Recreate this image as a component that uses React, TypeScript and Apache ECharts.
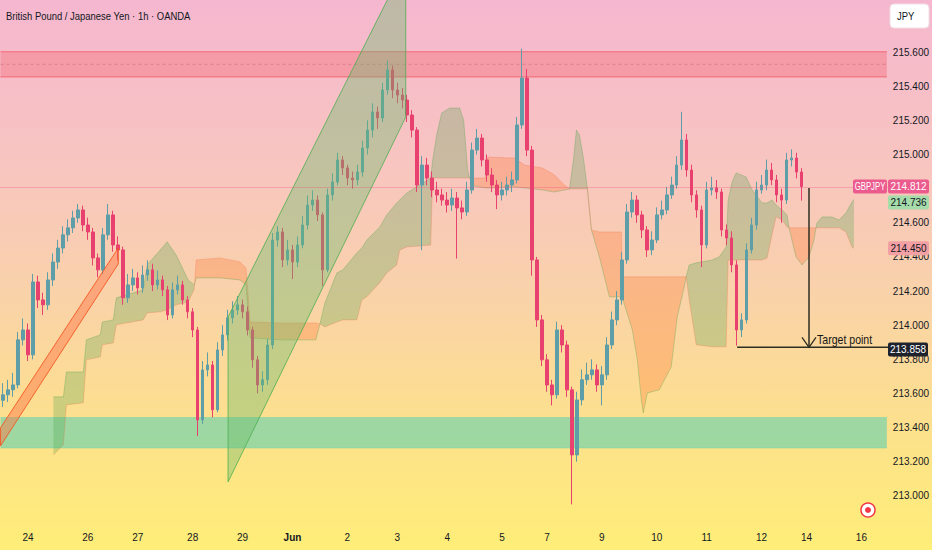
import * as echarts from "echarts";
import { useEffect, useRef } from "react";

const FONT = '"Liberation Sans", Arial, sans-serif';
// the reference uses a condensed face; texts drawn as graphics are squeezed a little
const NARROW = 0.86;

// one category slot per candle, plus empty slots to the right
const SLOT_COUNT = 178;

const firstOpen = 213.56;
const closes = [
  213.592, 213.621, 213.65, 213.914, 213.972, 213.826, 214.253, 214.148, 214.119, 214.265,
  214.37, 214.452, 214.529, 214.57, 214.628, 214.675, 214.587, 214.546, 214.394, 214.324,
  214.529, 214.646, 214.47, 214.441, 214.16, 214.236, 214.277, 214.218, 214.294, 214.324,
  214.236, 214.265, 214.207, 214.06, 214.207, 214.236, 214.148, 214.078, 213.972, 213.445,
  213.738, 213.767, 213.504, 213.855, 213.943, 214.043, 214.089, 214.119, 214.078, 213.972,
  213.797, 213.65, 213.68, 213.884, 214.499, 214.546, 214.382, 214.441, 214.37, 214.47,
  214.587, 214.704, 214.733, 214.646, 214.324, 214.763, 214.839, 214.968, 214.921, 214.862,
  214.851, 214.897, 215.038, 215.143, 215.249, 215.214, 215.378, 215.495, 215.378, 215.348,
  215.319, 215.231, 215.143, 214.821, 214.938, 214.862, 214.792, 214.763, 214.733, 214.704,
  214.745, 214.687, 214.663, 214.792, 215.026, 215.096, 214.968, 214.88, 214.821, 214.763,
  214.792, 214.821, 214.851, 215.173, 215.448, 215.026, 214.382, 214.031, 213.797, 213.65,
  213.592, 213.972, 213.884, 213.621, 213.24, 213.562, 213.68, 213.709, 213.738, 213.65,
  213.709, 213.884, 214.031, 214.148, 214.382, 214.663, 214.733, 214.646, 214.558, 214.441,
  214.499, 214.646, 214.675, 214.763, 214.821, 214.938, 215.085, 214.909, 214.763, 214.675,
  214.47, 214.792, 214.804, 214.78, 214.558, 214.511, 214.353, 213.972, 214.031, 214.441,
  214.587, 214.792, 214.821, 214.909, 214.851, 214.763, 214.733, 214.968, 214.979, 214.897,
  214.812,
];
const highs = [
  213.66, 213.68, 213.72, 213.96, 214.04, 214.01, 214.3, 214.29, 214.19, 214.31,
  214.42, 214.5, 214.58, 214.62, 214.67, 214.71, 214.7, 214.63, 214.57, 214.42,
  214.57, 214.71, 214.67, 214.52, 214.46, 214.3, 214.33, 214.31, 214.35, 214.38,
  214.36, 214.32, 214.29, 214.23, 214.25, 214.29, 214.26, 214.17, 214.1, 213.99,
  213.79, 213.84, 213.79, 213.9, 214.0, 214.09, 214.14, 214.17, 214.15, 214.11,
  213.99, 213.82, 213.73, 213.92, 214.54, 214.58, 214.57, 214.5, 214.47, 214.52,
  214.64, 214.76, 214.79, 214.76, 214.66, 214.8, 214.89, 215.01, 214.99, 214.94,
  214.9, 214.94, 215.08, 215.2, 215.3, 215.28, 215.42, 215.55, 215.52, 215.42,
  215.39, 215.35, 215.26, 215.16, 214.99, 214.98, 214.9, 214.84, 214.8, 214.78,
  214.8, 214.78, 214.73, 214.84, 215.07, 215.15, 215.12, 215.0, 214.92, 214.85,
  214.84, 214.87, 214.9, 215.22, 215.62, 215.5, 215.05, 214.4, 214.06, 213.83,
  213.68, 214.02, 214.0, 213.91, 213.64, 213.61, 213.74, 213.78, 213.8, 213.77,
  213.76, 213.93, 214.08, 214.2, 214.43, 214.71, 214.78, 214.76, 214.67, 214.58,
  214.55, 214.69, 214.73, 214.81, 214.87, 214.99, 215.25, 215.12, 214.94, 214.79,
  214.7, 214.84, 214.87, 214.85, 214.8, 214.59, 214.55, 214.38, 214.07, 214.48,
  214.63, 214.84, 214.88, 214.97, 214.95, 214.88, 214.8, 215.01, 215.03, 215.01,
  214.92,
];
const lows = [
  213.52, 213.55, 213.58, 213.63, 213.88, 213.79, 213.8, 214.1, 214.06, 214.09,
  214.23, 214.33, 214.42, 214.49, 214.54, 214.6, 214.55, 214.5, 214.35, 214.28,
  214.3, 214.5, 214.43, 214.38, 214.12, 214.13, 214.2, 214.18, 214.19, 214.26,
  214.2, 214.21, 214.17, 214.03, 214.04, 214.18, 214.12, 214.04, 213.93, 213.35,
  213.42, 213.7, 213.46, 213.49, 213.82, 213.91, 214.01, 214.06, 214.04, 213.94,
  213.75, 213.6, 213.61, 213.65, 213.86, 214.46, 214.34, 214.35, 214.27, 214.34,
  214.45, 214.56, 214.67, 214.61, 214.23, 214.31, 214.73, 214.82, 214.88, 214.82,
  214.8, 214.82, 214.87, 215.0, 215.1, 215.15, 215.19, 215.35, 215.33, 215.3,
  215.27, 215.19, 215.1, 214.78, 214.44, 214.82, 214.75, 214.72, 214.7, 214.66,
  214.67, 214.39, 214.62, 214.64, 214.77, 215.0, 214.93, 214.84, 214.78, 214.68,
  214.73, 214.76, 214.78, 214.83, 215.15, 214.99, 214.29, 213.99, 213.76, 213.61,
  213.53, 213.57, 213.84, 213.58, 212.95, 213.2, 213.53, 213.65, 213.68, 213.61,
  213.53, 213.68, 213.86, 214.0, 214.12, 214.36, 214.63, 214.6, 214.51, 214.4,
  214.41, 214.48, 214.62, 214.65, 214.74, 214.8, 214.91, 214.87, 214.72, 214.63,
  214.34, 214.45, 214.76, 214.74, 214.52, 214.47, 214.31, 213.88, 213.93, 214.01,
  214.42, 214.56, 214.77, 214.79, 214.82, 214.72, 214.6, 214.71, 214.93, 214.86,
  214.73,
];

const dayLabels = ["24", "26", "27", "28", "29", "Jun", "2", "3", "4", "5", "7", "9", "10", "11", "12", "14", "16"];
const dayLabelSlots = [5, 17, 27, 38, 48, 58, 69, 79, 89, 100, 109, 120, 131, 141, 152, 161, 172];

// ichimoku cloud (x in candle-slot units)
const cloudX = [
  10.1, 12.1, 12.7, 16.1, 16.7, 19.5, 19.9, 22.1, 22.7, 28.1,
  28.9, 31.5, 32.9, 34.7, 37.1, 38.3, 38.4, 38.7, 43.5, 47.5,
  48.7, 49.5, 55.5, 62.7, 63.5, 64.5, 66.9, 68.1, 70.9, 71.9,
  72.9, 75.5, 76.9, 78.9, 79.5, 80.9, 83.5, 85.7, 86.1, 86.9,
  87.9, 89.5, 91.5, 92.3, 93.1, 93.5, 94.5, 96.7, 97.1, 102.5,
  104.5, 108.1, 110.5, 112.5, 113.5, 114.3, 114.9, 115.5, 116.3, 117.1,
  117.9, 119.5, 121.5, 123.9, 124.1, 126.1, 127.1, 127.9, 128.3, 129.1,
  131.5, 133.9, 135.1, 136.5, 136.9, 137.5, 138.9, 142.1, 143.5, 144.9,
  145.3, 146.1, 146.9, 148.9, 150.1, 152.1, 153.1, 154.1, 154.9, 156.1,
  157.1, 157.5, 158.9, 160.1, 161.5, 162.5, 162.9, 163.1, 164.1, 166.1,
  167.5, 168.9, 170.1, 170.5,
];
const spanA = [
  213.58, 213.58, 213.726, 213.726, 213.914, 213.943, 214.019, 214.031, 214.16, 214.207,
  214.353, 214.441, 214.488, 214.411, 214.265, 214.236, 214.242, 214.277, 214.277, 214.265,
  214.236, 213.926, 213.914, 213.914, 214.007, 214.13, 214.306, 214.324, 214.423, 214.452,
  214.499, 214.575, 214.646, 214.716, 214.733, 214.774, 214.821, 214.862, 214.968, 215.114,
  215.243, 215.272, 215.272, 215.202, 214.909, 214.862, 214.815, 214.804, 214.804, 214.81,
  214.804, 214.792, 214.78, 214.792, 214.798, 214.968, 215.143, 215.114, 214.979, 214.798,
  214.558, 214.4, 214.166, 214.166, 214.16, 213.972, 213.797, 213.562, 213.486, 213.603,
  213.621, 213.756, 214.048, 214.224, 214.283, 214.353, 214.365, 214.382, 214.4, 214.458,
  214.733, 214.839, 214.892, 214.868, 214.792, 214.716, 214.716, 214.733, 214.704, 214.675,
  214.646, 214.57, 214.4, 214.353, 214.4, 214.499, 214.57, 214.599, 214.634, 214.634,
  214.616, 214.657, 214.72, 214.736,
];
const spanB = [
  213.24, 213.299, 213.533, 213.545, 213.797, 213.814, 213.885, 213.896, 214.002, 214.031,
  214.072, 214.078, 214.089, 214.119, 214.136, 214.207, 214.242, 214.382, 214.394, 214.37,
  214.335, 214.019, 214.013, 214.013, 214.007, 213.99, 214.019, 214.031, 214.031, 214.148,
  214.166, 214.248, 214.306, 214.353, 214.441, 214.458, 214.464, 214.47, 214.862, 214.862,
  214.862, 214.862, 214.862, 214.862, 214.862, 214.862, 214.862, 214.862, 214.985, 214.979,
  214.938, 214.921, 214.88, 214.821, 214.798, 214.798, 214.798, 214.798, 214.798, 214.798,
  214.558, 214.546, 214.546, 214.546, 214.283, 214.283, 214.283, 214.283, 214.283, 214.283,
  214.283, 214.283, 214.283, 214.283, 214.283, 214.148, 213.885, 213.873, 213.873, 213.873,
  214.382, 214.382, 214.382, 214.382, 214.382, 214.382, 214.394, 214.529, 214.634, 214.616,
  214.575, 214.57, 214.57, 214.57, 214.57, 214.57, 214.57, 214.57, 214.57, 214.57,
  214.57, 214.546, 214.458, 214.45,
];

const resistanceZone = [215.454, 215.602];
const supportZone = [213.28, 213.459];

const risingChannel = [
  [45.1, 214.048],
  [80.7, 216.12],
  [80.7, 215.219],
  [45.1, 213.082],
];
const trendBand = [
  [-0.5, 213.399],
  [23.1, 214.452],
  [23.1, 214.359],
  [-0.5, 213.293],
];

const lastPrice = 214.812;
const spanATag = 214.736;
const spanBTag = 214.45;
const targetTag = 213.858;
const targetLevel = 213.87;
const targetLineFrom = 147.1;
const arrowX = 161.5;
const arrowTop = 214.804;

export default function App() {
  const ref = useRef<HTMLDivElement | null>(null);

  useEffect(() => {
    document.body.style.margin = "0";
    if (!ref.current) return;
    const chart = echarts.init(ref.current, undefined, { renderer: "svg" });

    const candles = closes.map((c, i) => [
      i === 0 ? firstOpen : closes[i - 1],
      c,
      lows[i],
      highs[i],
    ]);

    const slotLabels: string[] = Array.from({ length: SLOT_COUNT }, () => "");
    dayLabelSlots.forEach((s, i) => (slotLabels[s] = dayLabels[i]));

    const zoneDefs = [
      {
        low: resistanceZone[0],
        high: resistanceZone[1],
        fill: "rgba(242, 54, 69, 0.25)",
        edge: "rgba(242, 54, 69, 0.55)",
        mid: true,
      },
      {
        low: supportZone[0],
        high: supportZone[1],
        fill: "rgba(64, 206, 184, 0.5)",
        edge: "rgba(64, 206, 184, 0.3)",
        mid: false,
      },
    ];

    const cloudRender = (_params: any, api: any) => {
      const children: any[] = [];
      const segSign = (k: number) =>
        spanA[k] + spanA[k + 1] - spanB[k] - spanB[k + 1] >= 0;
      let i = 0;
      while (i < cloudX.length - 1) {
        const up = segSign(i);
        let j = i;
        while (j < cloudX.length - 1 && segSign(j) === up) j++;
        const top: number[][] = [];
        const bot: number[][] = [];
        for (let k = i; k <= j; k++) {
          top.push(api.coord([cloudX[k], spanA[k]]));
          bot.push(api.coord([cloudX[k], spanB[k]]));
        }
        children.push({
          type: "polygon",
          shape: { points: top.concat(bot.reverse()) },
          style: {
            fill: up ? "rgba(67, 160, 71, 0.26)" : "rgba(255, 112, 40, 0.28)",
          },
        });
        i = j;
      }
      children.push({
        type: "polyline",
        shape: { points: cloudX.map((x, k) => api.coord([x, spanA[k]])) },
        style: { stroke: "rgba(67, 160, 71, 0.3)", lineWidth: 1, fill: "none" },
      });
      children.push({
        type: "polyline",
        shape: { points: cloudX.map((x, k) => api.coord([x, spanB[k]])) },
        style: { stroke: "rgba(240, 100, 60, 0.25)", lineWidth: 1, fill: "none" },
      });
      return { type: "group", children };
    };

    const zoneRender = (params: any, api: any) => {
      const cs = params.coordSys;
      const z = zoneDefs[params.dataIndex];
      const yTop = api.coord([0, z.high])[1];
      const yBot = api.coord([0, z.low])[1];
      const right = cs.x + cs.width - 2;
      const children: any[] = [
        {
          type: "rect",
          shape: { x: cs.x, y: yTop, width: right - cs.x, height: yBot - yTop },
          style: { fill: z.fill },
        },
        {
          type: "line",
          shape: { x1: cs.x, y1: yTop, x2: right, y2: yTop },
          style: { stroke: z.edge, lineWidth: 1 },
        },
        {
          type: "line",
          shape: { x1: cs.x, y1: yBot, x2: right, y2: yBot },
          style: { stroke: z.edge, lineWidth: 1 },
        },
      ];
      if (z.mid) {
        const yMid = (yTop + yBot) / 2;
        children.push({
          type: "line",
          shape: { x1: cs.x, y1: yMid, x2: right, y2: yMid },
          style: { stroke: "rgba(160, 70, 80, 0.3)", lineWidth: 1, lineDash: [3, 3] },
        });
      }
      return { type: "group", children };
    };

    const channelDefs = [
      { pts: risingChannel, fill: "rgba(102, 187, 106, 0.38)", stroke: "rgba(76, 175, 80, 0.8)" },
      { pts: trendBand, fill: "rgba(255, 112, 67, 0.45)", stroke: "rgba(244, 81, 30, 0.85)" },
    ];
    const channelRender = (params: any, api: any) => {
      const c = channelDefs[params.dataIndex];
      return {
        type: "polygon",
        shape: { points: c.pts.map((p) => api.coord(p)) },
        style: { fill: c.fill, stroke: c.stroke, lineWidth: 1 },
      };
    };

    const drawingRender = (params: any, api: any) => {
      const cs = params.coordSys;
      const [ax, ay0] = api.coord([arrowX, arrowTop]);
      const ay1 = api.coord([arrowX, targetLevel])[1];
      const lx = api.coord([targetLineFrom, targetLevel])[0];
      const ink = "#2e2e22";
      return {
        type: "group",
        children: [
          {
            type: "line",
            shape: { x1: lx, y1: ay1, x2: cs.x + cs.width, y2: ay1 },
            style: { stroke: ink, lineWidth: 1.5 },
          },
          {
            type: "line",
            shape: { x1: ax, y1: ay0, x2: ax, y2: ay1 },
            style: { stroke: ink, lineWidth: 1.5 },
          },
          {
            type: "polyline",
            shape: { points: [[ax - 7, ay1 - 10], [ax, ay1], [ax + 7, ay1 - 10]] },
            style: { stroke: ink, lineWidth: 1.3, fill: "none" },
          },
          {
            type: "text",
            x: ax + 8,
            y: ay1 - 8,
            scaleX: 0.88,
            style: {
              text: "Target point",
              fill: "#161616",
              font: `12px ${FONT}`,
              align: "left",
              verticalAlign: "middle",
            },
          },
        ],
      };
    };

    chart.setOption({
      animation: false,
      backgroundColor: "transparent",
      grid: { left: 0, right: 42, top: 0, bottom: 20 },
      xAxis: [
        {
          type: "category",
          data: slotLabels,
          boundaryGap: true,
          axisLine: { show: false },
          axisTick: { show: false },
          splitLine: { show: false },
          axisLabel: {
            interval: 0,
            margin: 2,
            color: "#131722",
            fontSize: 10,
            fontFamily: FONT,
            formatter: (v: string) => (v === "Jun" ? "{b|Jun}" : v),
            rich: {
              b: { fontWeight: "bold", fontSize: 10, fontFamily: FONT, color: "#131722" },
            },
          },
        },
        {
          type: "value",
          min: -0.5,
          max: SLOT_COUNT - 0.5,
          show: false,
        },
      ],
      yAxis: {
        type: "value",
        position: "right",
        min: 212.8,
        max: 215.905,
        interval: 0.2,
        axisLine: { show: false },
        axisTick: { show: false },
        splitLine: { show: false },
        axisLabel: {
          margin: 4,
          color: "#131722",
          fontSize: 10,
          fontFamily: FONT,
          // the last-price tag hides the tick right under it
          formatter: (v: number) =>
            v < 212.9 || v > 215.7 || Math.abs(v - lastPrice) < 0.03 ? "" : v.toFixed(3),
        },
      },
      series: [
        {
          type: "custom",
          name: "zones",
          xAxisIndex: 1,
          yAxisIndex: 0,
          z: 1,
          silent: true,
          clip: true,
          data: zoneDefs.map((_, i) => [i, 214]),
          renderItem: zoneRender,
        },
        {
          type: "custom",
          name: "cloud",
          xAxisIndex: 1,
          yAxisIndex: 0,
          z: 1,
          silent: true,
          clip: true,
          data: [[0, 214]],
          renderItem: cloudRender,
        },
        {
          type: "candlestick",
          name: "GBPJPY",
          xAxisIndex: 0,
          yAxisIndex: 0,
          z: 3,
          barWidth: 3,
          data: candles,
          itemStyle: {
            color: "#5e9ea8",
            color0: "#e8416f",
            borderColor: "#5e9ea8",
            borderColor0: "#e8416f",
            borderWidth: 1,
          },
          markLine: {
            silent: true,
            symbol: ["none", "none"],
            label: { show: false },
            lineStyle: { color: "#ec407a", type: "dotted", width: 1, opacity: 0.55 },
            data: [{ yAxis: lastPrice }],
          },
        },
        {
          type: "custom",
          name: "channels",
          xAxisIndex: 1,
          yAxisIndex: 0,
          z: 4,
          silent: true,
          clip: true,
          data: channelDefs.map((_, i) => [i, 214]),
          renderItem: channelRender,
        },
        {
          type: "custom",
          name: "drawings",
          xAxisIndex: 1,
          yAxisIndex: 0,
          z: 5,
          silent: true,
          clip: true,
          data: [[0, 214]],
          renderItem: drawingRender,
        },
      ],
    });

    const yPix = (v: number) => chart.convertToPixel({ yAxisIndex: 0 }, v) as number;
    const lastY = yPix(lastPrice);
    // tags that would collide are pushed apart, as the trading terminal does
    const spanAY = Math.max(yPix(spanATag), lastY + 16);
    const tagBox = (x: number, w: number, y: number, fill: string) => ({
      type: "rect",
      z: 100,
      shape: { x, y: y - 7, width: w, height: 14, r: 2 },
      style: { fill },
    });
    const tagText = (x: number, w: number, y: number, color: string, text: string, squeeze = 1) => ({
      type: "text",
      z: 101,
      x: x + w / 2,
      y,
      scaleX: squeeze,
      style: { text, fill: color, font: `10px ${FONT}`, align: "center", verticalAlign: "middle" },
    });

    chart.setOption({
      graphic: [
        {
          type: "rect",
          z: -100,
          silent: true,
          shape: { x: 0, y: 0, width: 932, height: 550 },
          style: {
            fill: new echarts.graphic.LinearGradient(0, 0, 0, 1, [
              { offset: 0, color: "#f5b7cf" },
              { offset: 0.3, color: "#f8c5c0" },
              { offset: 0.5, color: "#f9d0ad" },
              { offset: 0.7, color: "#fcdc95" },
              { offset: 0.85, color: "#fde585" },
              { offset: 1, color: "#ffee78" },
            ]),
          },
        },
        tagBox(853, 34, lastY, "#ec5b8e"),
        tagText(853, 34, lastY, "#ffffff", "GBPJPY", 0.78),
        tagBox(888, 41, lastY, "#ec5b8e"),
        tagText(888, 41, lastY, "#ffffff", lastPrice.toFixed(3)),
        tagBox(888, 41, spanAY, "#a6dcaa"),
        tagText(888, 41, spanAY, "#131722", spanATag.toFixed(3)),
        tagBox(888, 41, yPix(spanBTag), "#f2a0a4"),
        tagText(888, 41, yPix(spanBTag), "#131722", spanBTag.toFixed(3)),
        tagBox(888, 40, yPix(targetTag), "#1e222d"),
        tagText(888, 40, yPix(targetTag), "#ffffff", targetTag.toFixed(3)),
        {
          type: "text",
          z: 100,
          x: 6,
          y: 16,
          scaleX: NARROW,
          style: {
            text: "British Pound / Japanese Yen · 1h · OANDA",
            fill: "#131722",
            font: `11px ${FONT}`,
            verticalAlign: "middle",
          },
        },
        {
          type: "rect",
          z: 100,
          shape: { x: 890, y: 4, width: 39, height: 24, r: 4 },
          style: { fill: "#ffffff", stroke: "#f0e0e6", lineWidth: 1 },
        },
        {
          type: "text",
          z: 101,
          x: 897,
          y: 16,
          scaleX: NARROW,
          style: { text: "JPY", fill: "#131722", font: `11px ${FONT}`, verticalAlign: "middle" },
        },
        {
          type: "circle",
          z: 100,
          shape: { cx: 868, cy: 510, r: 7 },
          style: { fill: "#ffffff", stroke: "#f23645", lineWidth: 1.5 },
        },
        {
          type: "circle",
          z: 101,
          shape: { cx: 868, cy: 510, r: 3 },
          style: { fill: "#f23645" },
        },
      ],
    });

    return () => {
      chart.dispose();
    };
  }, []);

  return <div ref={ref} style={{ width: 932, height: 550 }} />;
}
